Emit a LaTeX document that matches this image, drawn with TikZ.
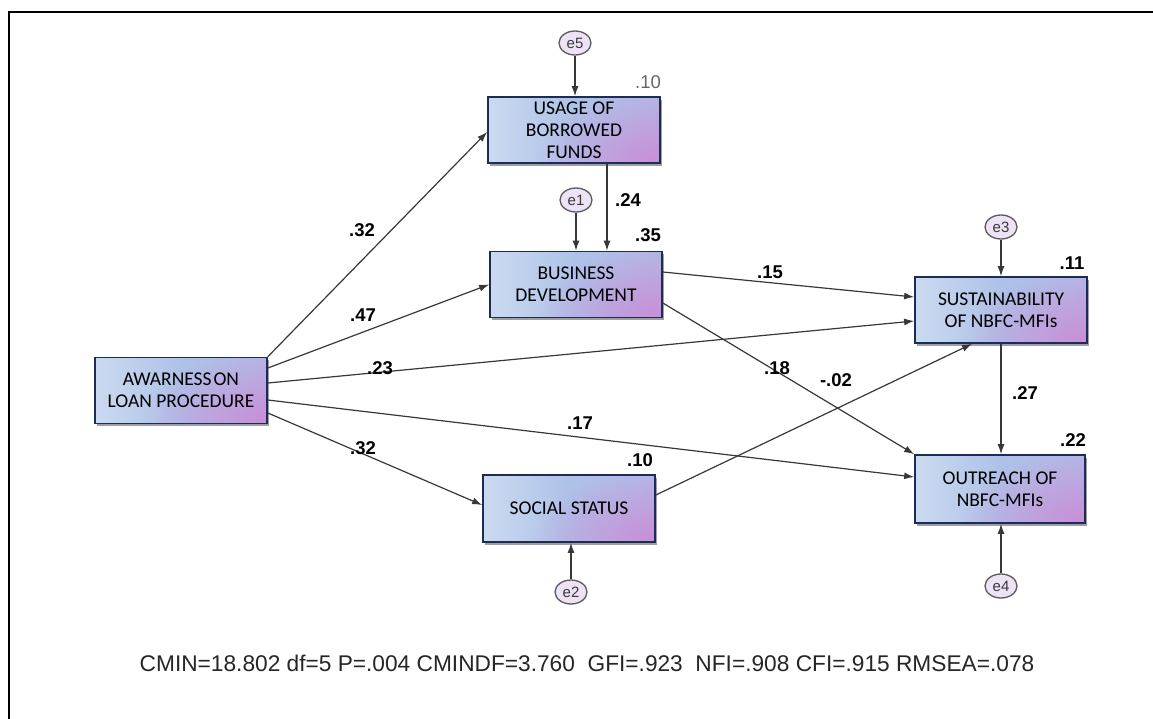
\documentclass[tikz,border=0pt]{standalone}
\usepackage{fontspec}
\setmainfont{Liberation Sans}
\newfontfamily\boxfont{Carlito}
\usetikzlibrary{arrows.meta,calc,shadows,fadings,shapes.geometric}
\definecolor{boxedge}{HTML}{1C2D55}
\definecolor{boxleft}{HTML}{CBDAF0}
\definecolor{boxmid}{HTML}{AEC2E8}
\definecolor{boxright}{HTML}{B4B8E6}
\definecolor{boxpink}{HTML}{C98ED7}
\definecolor{lineclr}{HTML}{383838}
\definecolor{errfill}{HTML}{EEE2F6}
\definecolor{errline}{HTML}{5A5A5A}
\definecolor{errtext}{HTML}{3A3A3A}
\tikzfading[name=pinkfade, inner color=transparent!0, outer color=transparent!100]
\begin{document}
\begin{tikzpicture}[x=1pt,y=-1pt,
  var/.style={draw=boxedge, line width=1.7pt, minimum width=172pt, minimum height=66pt,
    inner ysep=0pt, align=center, text=black,
    font=\boxfont\fontsize{19.5}{22}\selectfont,
    drop shadow={shadow xshift=1.5pt, shadow yshift=-2.5pt, fill=gray!75, opacity=1},
    path picture={
      \shade[left color=boxleft, right color=boxright, middle color=boxmid]
        (path picture bounding box.south west) rectangle (path picture bounding box.north east);
      \fill[boxpink, path fading=pinkfade] (path picture bounding box.south east) ellipse (125pt and 72pt);
    }},
  err/.style={ellipse, draw=errline, fill=errfill, line width=1.3pt, minimum width=32pt,
    minimum height=24pt, inner sep=0pt, font=\fontsize{15}{15}\selectfont, text=errtext},
  conn/.style={draw=lineclr, line width=1.2pt, -{Latex[length=10pt,width=7pt]}},
  lbl/.style={font=\bfseries\fontsize{18.5}{18.5}\selectfont, text=black},
  lblgray/.style={font=\fontsize{18.5}{18.5}\selectfont, text=black!60}
]
\useasboundingbox (0,0) rectangle (1153,718);
\fill[white] (0,0) rectangle (1153,718);
\draw[line width=2pt, black] (9,720) -- (9,12) -- (1155,12);

% variables
\node[var] (aw) at (181,390.5) {AWARNESS\hspace{0.1em}ON\\LOAN PROCEDURE};
\node[var] (us) at (574,130) {USAGE OF\\BORROWED\\FUNDS};
\node[var] (bd) at (576,284.5) {BUSINESS\\DEVELOPMENT};
\node[var] (su) at (1001,310) {SUSTAINABILITY\\OF NBFC-MFIs};
\node[var, minimum width=170pt, minimum height=68pt] (ou) at (1000,489) {OUTREACH OF\\NBFC-MFIs};
\node[var, minimum height=67pt] (ss) at (569,508.5) {SOCIAL STATUS};

% errors
\node[err] (e5) at (575,43) {e5};
\node[err] (e1) at (576,200) {e1};
\node[err] (e3) at (1001,227) {e3};
\node[err] (e2) at (571,592) {e2};
\node[err] (e4) at (1001,586) {e4};

% error arrows
\draw[conn] (e5.south) -- (e5.south |- us.north);
\draw[conn] (e1.south) -- (e1.south |- bd.north);
\draw[conn] (e3.south) -- (e3.south |- su.north);
\draw[conn] (e2.north) -- (e2.north |- ss.south);
\draw[conn] (e4.north) -- (e4.north |- ou.south);

% paths
\coordinate (ub) at ($(us.south)+(33,0)$);
\coordinate (bs) at ($(su.south)+(-29,0)$);
\draw[conn] (aw.north east) -- ($(us.west)+(0,2)$);
\draw[conn] ($(aw.east)+(0,-22.5)$) -- (bd.west);
\draw[conn] ($(aw.east)+(0,-7.5)$) -- ($(su.west)+(0,11)$);
\draw[conn] ($(aw.east)+(0,9.5)$) -- ($(ou.west)+(0,-12)$);
\draw[conn] ($(aw.east)+(0,22.5)$) -- ($(ss.west)+(0,-3.5)$);
\draw[conn] (ub) -- (ub |- bd.north);
\draw[conn] ($(bd.east)+(0,-12.5)$) -- ($(su.west)+(0,-13)$);
\draw[conn] ($(bd.east)+(0,18.5)$) -- (ou.north west);
\draw[conn] ($(ss.east)+(0,-13.5)$) -- (bs);
\draw[conn] (su.south) -- (su.south |- ou.north);

% labels
\node[lbl] (l1) at (362,230) {.32};
\node[lbl] (l2) at (363,315) {.47};
\node[lbl] (l3) at (380,368) {.23};
\node[lbl] (l4) at (580,423) {.17};
\node[lbl] (l5) at (363,448) {.32};
\node[lbl] (l6) at (770,272) {.15};
\node[lbl] (l7) at (777,368) {.18};
\node[lbl] (l8) at (836,380) {-.02};
\node[lbl] (l9) at (1025,393) {.27};
\node[lbl] (l10) at (628,200) {.24};
\node[lblgray] (r1) at (648,82) {.10};
\node[lbl] (r2) at (648,235) {.35};
\node[lbl] (r3) at (1072,263) {.11};
\node[lbl] (r4) at (1073,440) {.22};
\node[lbl] (r5) at (640,460) {.10};

\node[font=\fontsize{22.7}{22.7}\selectfont, text=black!85] (fit) at (587,663)
  {CMIN=18.802 df=5 P=.004 CMINDF=3.760\ \ GFI=.923\ \ NFI=.908 CFI=.915 RMSEA=.078};
\end{tikzpicture}
\end{document}
